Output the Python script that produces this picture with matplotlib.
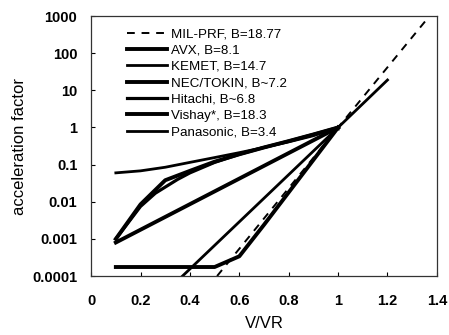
import matplotlib
matplotlib.use("Agg")
import matplotlib.pyplot as plt
from matplotlib.ticker import FixedLocator, FixedFormatter, NullLocator

plt.rcParams['font.family'] = ['Liberation Sans', 'DejaVu Sans']

# ── data ──────────────────────────────────────────────────────────────────────
mil_x = [0.51, 1.0, 1.37]
mil_y = [1e-4, 1.0, 1000]

avx_x = [0.1, 1.0]
avx_y = [8e-4, 1.0]

kemet_x = [0.37, 1.0, 1.2]
kemet_y = [1e-4, 1.0, 19]

nec_x = [0.1, 0.2, 0.3, 0.4, 0.5, 0.6, 0.7, 0.8, 0.9, 1.0]
nec_y = [1e-3, 8.5e-3, 0.038, 0.068, 0.12, 0.19, 0.29, 0.43, 0.65, 1.0]

hitachi_x = [0.1, 0.2, 0.26, 0.35, 0.4, 0.5, 0.6, 0.7, 0.8, 0.9, 1.0]
hitachi_y = [1e-3, 7.5e-3, 0.017, 0.04, 0.06, 0.115, 0.19, 0.29, 0.43, 0.65, 1.0]

vishay_x = [0.1, 0.5, 0.6, 0.7, 1.0]
vishay_y = [1.75e-4, 1.75e-4, 3.4e-4, 2.4e-3, 1.0]

pana_x = [0.1, 0.2, 0.3, 0.4, 0.5, 0.6, 0.7, 0.8, 0.9, 0.95, 1.0]
pana_y = [0.06, 0.068, 0.085, 0.115, 0.155, 0.21, 0.29, 0.41, 0.6, 0.78, 0.9]

yticks = [1e-4, 1e-3, 1e-2, 1e-1, 1, 10, 100, 1000]
ytick_labels = ["0.0001", "0.001", "0.01", "0.1", "1", "10", "100", "1000"]
xticks = [0, 0.2, 0.4, 0.6, 0.8, 1.0, 1.2, 1.4]
xtick_labels = ["0", "0.2", "0.4", "0.6", "0.8", "1", "1.2", "1.4"]

# ── plot ─────────────────────────────────────────────────────────────────────
fig = plt.figure(figsize=(4.49, 3.35), dpi=100)
ax = fig.add_axes([0.203, 0.176, 0.770, 0.776])

ax.plot(mil_x, mil_y, color="black", lw=1.4, ls=(0, (4, 3.5)), label="MIL-PRF, B=18.77")
ax.plot(avx_x, avx_y, color="black", lw=2.8, label="AVX, B=8.1")
ax.plot(kemet_x, kemet_y, color="black", lw=2.0, label="KEMET, B=14.7")
ax.plot(nec_x, nec_y, color="black", lw=2.8, label="NEC/TOKIN, B~7.2")
ax.plot(hitachi_x, hitachi_y, color="black", lw=2.3, label="Hitachi, B~6.8")
ax.plot(vishay_x, vishay_y, color="black", lw=2.8, label="Vishay*, B=18.3")
ax.plot(pana_x, pana_y, color="black", lw=2.0, label="Panasonic, B=3.4")

ax.set_yscale("log")
ax.set_xlim(0, 1.4)
ax.set_ylim(1e-4, 1000)

ax.yaxis.set_major_locator(FixedLocator(yticks))
ax.yaxis.set_major_formatter(FixedFormatter(ytick_labels))
ax.yaxis.set_minor_locator(NullLocator())
ax.set_xticks(xticks)
ax.set_xticklabels(xtick_labels)

ax.tick_params(direction="in", length=3, width=0.8, labelsize=10.5, pad=13)
ax.tick_params(axis="y", pad=10)
for lab in ax.get_xticklabels() + ax.get_yticklabels():
    lab.set_fontweight("bold")

for s in ax.spines.values():
    s.set_linewidth(0.9)
    s.set_color("#333333")

ax.set_xlabel("V/VR", fontsize=12, labelpad=6)
ax.set_ylabel("acceleration factor", fontsize=12, labelpad=4)

ax.legend(loc="upper left", bbox_to_anchor=(0.08, 0.985), frameon=False,
          fontsize=9.6, handlelength=3.0, handletextpad=0.35,
          labelspacing=0.3, borderaxespad=0.2)

fig.savefig("out.png", dpi=100)
